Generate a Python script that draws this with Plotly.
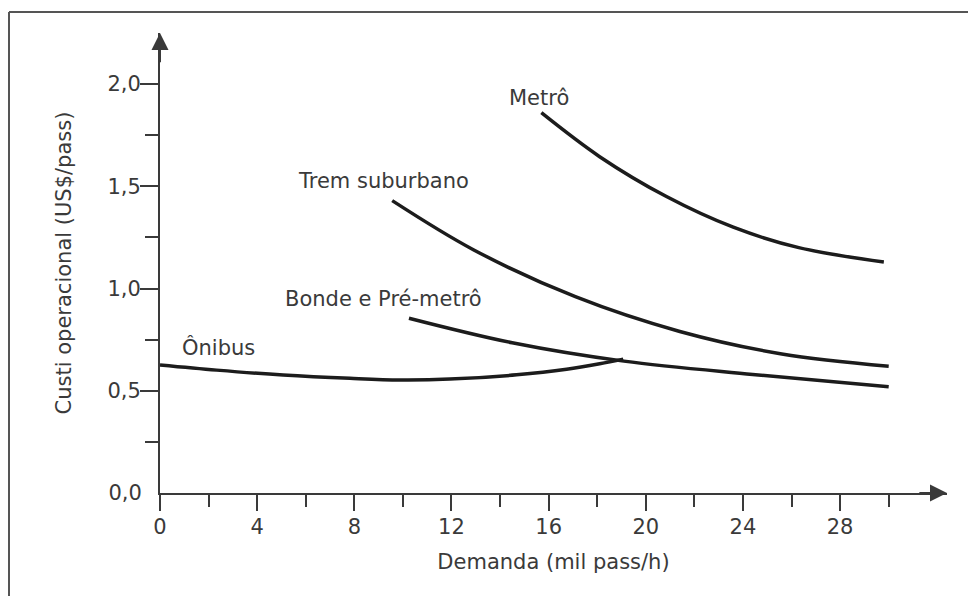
import plotly.graph_objects as go

# ---- data ----
demand_metro = [15.7, 18.1, 20.85, 23.6, 26.3, 29.8]
cost_metro = [1.86, 1.645, 1.45, 1.30, 1.20, 1.13]

demand_trem = [9.56, 12.9, 17.1, 21.4, 25.6, 30.0]
cost_trem = [1.43, 1.19, 0.96, 0.79, 0.68, 0.62]

demand_bonde = [10.25, 14.5, 19.1, 24.4, 30.0]
cost_bonde = [0.855, 0.735, 0.645, 0.58, 0.52]

demand_onibus = [0, 2.33, 5.07, 7.82, 9.88, 11.93, 14.68, 16.74, 18.1, 19.07]
cost_onibus = [0.626, 0.601, 0.577, 0.561, 0.553, 0.557, 0.578, 0.605, 0.632, 0.655]

series_names = ["Metrô", "Trem suburbano", "Bonde e Pré-metrô", "Ônibus"]

x_major_ticks = [0, 4, 8, 12, 16, 20, 24, 28]
x_major_labels = ["0", "4", "8", "12", "16", "20", "24", "28"]
x_minor_ticks = [2, 6, 10, 14, 18, 22, 26, 30]

y_major_ticks = [0.5, 1.0, 1.5, 2.0]
y_major_labels = ["0,5", "1,0", "1,5", "2,0"]
y_zero_tick = [0.0]
y_zero_label = ["0,0"]
y_minor_ticks = [0.25, 0.75, 1.25, 1.75]

x_title = "Demanda (mil pass/h)"
y_title = "Custi operacional (US$/pass)"

X_MAX = 32.4
Y_MAX = 2.25

FONT = "DejaVu Sans"
TXT = "#3a3a3a"
AX = "#3a3a3a"
LINE = "#1c1c1c"

fig = go.Figure()

curves = [
    (demand_metro, cost_metro, "y"),
    (demand_trem, cost_trem, "y"),
    (demand_bonde, cost_bonde, "y"),
    (demand_onibus, cost_onibus, "y2"),
]
for (xs, ys, yax), name in zip(curves, series_names):
    fig.add_trace(go.Scatter(
        x=xs, y=ys, mode="lines", name=name, yaxis=yax,
        line=dict(color=LINE, width=3.5, shape="spline", smoothing=1.0),
        showlegend=False, hoverinfo="x+y+name",
    ))

# curve labels (data coordinates)
label_pos = {
    "Metrô": (15.6, 1.93),
    "Trem suburbano": (9.2, 1.525),
    "Bonde e Pré-metrô": (9.2, 0.95),
    "Ônibus": (2.4, 0.71),
}
for name in series_names:
    lx, ly = label_pos[name]
    fig.add_annotation(x=lx, y=ly, xref="x", yref="y", text=name, showarrow=False,
                       font=dict(family=FONT, size=21, color=TXT))

# arrow heads on the axes
fig.add_annotation(x=X_MAX, y=0, xref="x", yref="y", ax=X_MAX - 1.2, ay=0,
                   axref="x", ayref="y", text="", showarrow=True,
                   arrowhead=2, arrowsize=1.7, arrowwidth=2, arrowcolor=AX)
fig.add_annotation(x=0, y=Y_MAX, xref="x", yref="y", ax=0, ay=Y_MAX - 0.15,
                   axref="x", ayref="y", text="", showarrow=True,
                   arrowhead=2, arrowsize=1.7, arrowwidth=2, arrowcolor=AX)

# page body has an 8px default margin: size the figure to fill the rest of the window
OFF = 8
SCREEN_W, SCREEN_H = 976, 596
W, H = SCREEN_W - OFF, SCREEN_H - OFF
# plot area in screen pixels
AX_LEFT, AX_RIGHT, AX_TOP, AX_BOTTOM = 160, 947, 33, 493
L = AX_LEFT - OFF
T = AX_TOP - OFF
R = SCREEN_W - AX_RIGHT
B = SCREEN_H - AX_BOTTOM
pw, ph = W - L - R, H - T - B


def px(xs):
    return (xs - AX_LEFT) / pw


def py(ys):
    return (AX_BOTTOM - ys) / ph


# frame of the scanned figure (top and left edges)
fig.add_shape(type="line", xref="paper", yref="paper",
              x0=px(9), x1=px(9), y0=py(600), y1=py(12),
              line=dict(color="#555555", width=2))
fig.add_shape(type="line", xref="paper", yref="paper",
              x0=px(9), x1=px(980), y0=py(12), y1=py(12),
              line=dict(color="#555555", width=2))

tickfont = dict(family=FONT, size=21, color=TXT)

fig.update_layout(
    width=W, height=H,
    margin=dict(l=L, r=R, t=T, b=B),
    paper_bgcolor="white", plot_bgcolor="white",
    showlegend=False,
    xaxis=dict(
        range=[0, X_MAX], showgrid=False, zeroline=False,
        showline=True, linecolor=AX, linewidth=2,
        tickmode="array", tickvals=x_major_ticks, ticktext=x_major_labels,
        ticks="outside", ticklen=16, tickwidth=2, tickcolor=AX,
        tickfont=tickfont, ticklabelstandoff=-2,
        minor=dict(tickmode="array", tickvals=x_minor_ticks, ticks="outside",
                   ticklen=12, tickwidth=2, tickcolor=AX),
        title=dict(text=x_title, font=dict(family=FONT, size=21, color=TXT), standoff=16),
    ),
    yaxis=dict(
        range=[0, Y_MAX], showgrid=False, zeroline=False,
        showline=True, linecolor=AX, linewidth=2,
        tickmode="array", tickvals=y_major_ticks, ticktext=y_major_labels,
        ticks="outside", ticklen=18, tickwidth=2, tickcolor=AX,
        tickfont=tickfont, ticklabelstandoff=-5,
        minor=dict(tickmode="array", tickvals=y_minor_ticks, ticks="outside",
                   ticklen=13, tickwidth=2, tickcolor=AX),
        title=dict(text=y_title, font=dict(family=FONT, size=21, color=TXT), standoff=30),
    ),
    yaxis2=dict(
        range=[0, Y_MAX], overlaying="y", anchor="x", side="left",
        showgrid=False, zeroline=False, showline=False,
        tickmode="array", tickvals=y_zero_tick, ticktext=y_zero_label,
        ticks="outside", ticklen=18, tickcolor="rgba(0,0,0,0)",
        tickfont=tickfont, ticklabelstandoff=-5,
    ),
)

fig.write_html("out.html")
